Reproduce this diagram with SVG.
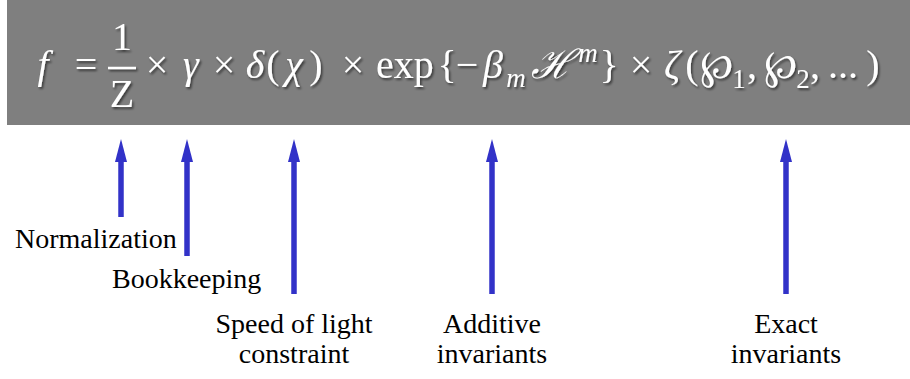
<svg xmlns="http://www.w3.org/2000/svg" width="910" height="379" viewBox="0 0 910 379">
<defs>
<style>
.eq{font-family:"Liberation Serif","DejaVu Serif",serif;font-size:40px;fill:#ffffff;text-anchor:middle}
.it{font-style:italic}
.sm{font-size:27px}
.lbl{font-family:"Liberation Serif","DejaVu Serif",serif;font-size:28px;fill:#000000}
.c{text-anchor:middle}
.arr{stroke:#3232c8;stroke-width:5.5;fill:none;marker-end:url(#ah)}
</style>
<filter id="sh" x="-5%" y="-20%" width="110%" height="140%">
<feDropShadow dx="1.5" dy="2" stdDeviation="1.2" flood-color="#000000" flood-opacity="0.55"/>
</filter>
<marker id="ah" markerUnits="userSpaceOnUse" markerWidth="23" markerHeight="12" viewBox="0 0 23 12" refX="1" refY="6" orient="auto">
<path d="M0,0 L23,6 L0,12 Z" fill="#3232c8"/>
</marker>
</defs>
<rect x="0" y="0" width="910" height="379" fill="#ffffff"/>
<g id="formula">
<rect x="7" y="0" width="903" height="125" fill="#7f7f7f"/>
<g filter="url(#sh)">
<text class="eq it" x="43" y="78">f</text>
<text class="eq" x="86" y="78">=</text>
<text class="eq" x="122" y="50">1</text>
<line x1="108" y1="68" x2="136" y2="68" stroke="#ffffff" stroke-width="2.5"/>
<text class="eq" x="122" y="107">Z</text>
<text class="eq" x="157" y="78">×</text>
<text class="eq it" x="191" y="78">γ</text>
<text class="eq" x="224" y="78">×</text>
<text class="eq it" x="255" y="78">δ</text>
<text class="eq" x="273" y="78">(</text>
<text class="eq it" x="294" y="78">χ</text>
<text class="eq" x="316" y="78">)</text>
<text class="eq" x="353" y="78">×</text>
<text class="eq" x="405" y="78">exp</text>
<text class="eq" x="447" y="78">{</text>
<text class="eq" x="467" y="78">−</text>
<text class="eq it" x="493" y="78">β</text>
<text class="eq it sm" x="516" y="87">m</text>
<text class="eq it" x="552" y="78" font-family="DejaVu Serif">ℋ</text>
<text class="eq it sm" x="588" y="62">m</text>
<text class="eq" x="609" y="78">}</text>
<text class="eq" x="641" y="78">×</text>
<text class="eq it" x="672" y="78">ζ</text>
<text class="eq" x="692" y="78">(</text>
<text class="eq" x="716" y="78" font-family="DejaVu Serif">℘</text>
<text class="eq sm" x="739" y="88">1</text>
<text class="eq" x="752" y="78">,</text>
<text class="eq" x="780" y="78" font-family="DejaVu Serif">℘</text>
<text class="eq sm" x="803" y="88">2</text>
<text class="eq" x="815" y="78">,</text>
<text class="eq" x="843" y="78">...</text>
<text class="eq" x="873" y="78">)</text>
</g>
</g>
<g id="connectors">
<line class="arr" x1="121" y1="217" x2="121" y2="161"/>
<line class="arr" x1="187" y1="256" x2="187" y2="161"/>
<line class="arr" x1="294" y1="294" x2="294" y2="161"/>
<line class="arr" x1="492" y1="294" x2="492" y2="161"/>
<line class="arr" x1="786" y1="294" x2="786" y2="161"/>
</g>
<g id="normalization"><text class="lbl" x="15" y="248">Normalization</text></g>
<g id="bookkeeping"><text class="lbl" x="112" y="288">Bookkeeping</text></g>
<g id="speed-of-light"><text class="lbl c" x="294" y="333">Speed of light</text><text class="lbl c" x="294" y="363">constraint</text></g>
<g id="additive"><text class="lbl c" x="492" y="333">Additive</text><text class="lbl c" x="492" y="363">invariants</text></g>
<g id="exact"><text class="lbl c" x="786" y="333">Exact</text><text class="lbl c" x="786" y="363">invariants</text></g>
</svg>
